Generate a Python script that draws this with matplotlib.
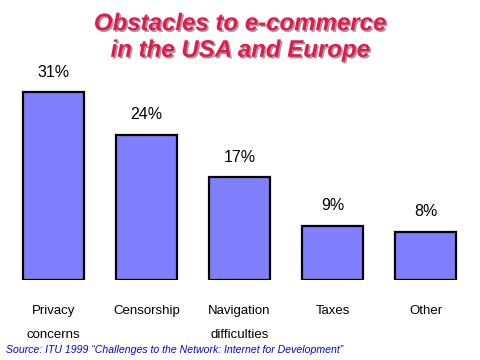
import matplotlib
matplotlib.use("Agg")
import matplotlib.pyplot as plt
import matplotlib.patheffects as pe

categories = ["Privacy\nconcerns", "Censorship", "Navigation\ndifficulties", "Taxes", "Other"]
values = [31, 24, 17, 9, 8]
value_labels = ["31%", "24%", "17%", "9%", "8%"]

plt.rcParams['font.family'] = ['Liberation Sans', 'DejaVu Sans']

fig = plt.figure(figsize=(4.8, 3.6), dpi=100)
fig.patch.set_facecolor('white')
ax = fig.add_axes([7/480, 80/360, 465/480, 220/360])
x = list(range(len(values)))
bars = ax.bar(x, values, width=0.656, color='#8080FF', edgecolor='black', linewidth=1.6)
ax.set_xlim(-0.5, 4.5)
ax.set_ylim(0, 220/6.05)
ax.axis('off')

for xi, v, lab in zip(x, values, value_labels):
    ax.annotate(lab, (xi, v), xytext=(0, 9), textcoords='offset points',
                ha='center', va='bottom', fontsize=11.5, color='black')

for xi, cat in zip(x, categories):
    ax.annotate(cat, (xi, 0), xytext=(0, -18), textcoords='offset points',
                ha='center', va='top', fontsize=9.5, color='black', linespacing=2.35)

title = fig.text(0.5, 1 - 37/360, "Obstacles to e-commerce\nin the USA and Europe",
                 ha='center', va='center', fontsize=17.3, fontweight='bold', style='italic',
                 color='#E8174F', linespacing=1.2)
title.set_path_effects([pe.SimplePatchShadow(offset=(1.2, -1.2), shadow_rgbFace='#A0A0A0', alpha=1.0), pe.Normal()])

fig.text(6/480, 1 - 350/360, "Source: ITU 1999 \u201cChallenges to the Network: Internet for Development\u201d",
         ha='left', va='center', fontsize=7.6, style='italic', color='#0000FF')

fig.savefig("out.png", dpi=100)
